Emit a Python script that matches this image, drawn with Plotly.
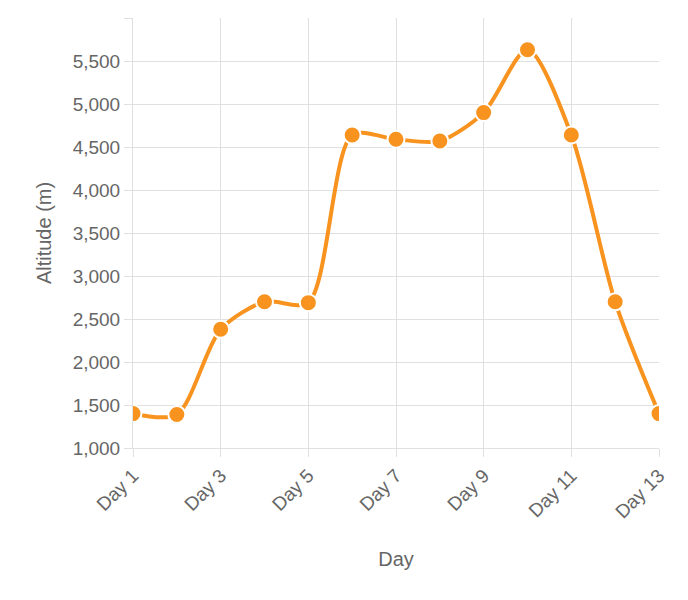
import plotly.graph_objects as go

days = list(range(1, 14))
day_labels = ["Day %d" % d for d in days]
altitude = [1400, 1390, 2380, 2700, 2690, 4640, 4590, 4570, 4900, 5630, 4640, 2700, 1400]

tick_days = days[::2]
tick_text = day_labels[::2]

fig = go.Figure()
fig.add_trace(go.Scatter(
    x=days, y=altitude, mode="lines+markers",
    line=dict(color="#F7931E", width=4, shape="spline", smoothing=0.8),
    marker=dict(size=17, color="#F7931E", line=dict(color="white", width=2)),
    hovertext=day_labels,
))

fig.update_layout(
    width=688, height=600,
    margin=dict(l=125, r=37, t=10, b=160),
    plot_bgcolor="white", paper_bgcolor="white",
    font=dict(family="Helvetica, Arial, sans-serif", size=19, color="#666"),
    showlegend=False,
    xaxis=dict(title=dict(text="Day", font=dict(size=20), standoff=30), range=[1, 13],
               tickvals=tick_days, ticktext=tick_text, tickangle=-45,
               showgrid=True, gridcolor="#e0e0e0", zeroline=False,
               ticks="outside", ticklen=8, tickcolor="#e0e0e0",
               showline=True, linecolor="#e0e0e0"),
    yaxis=dict(title=dict(text="Altitude (m)", font=dict(size=20)), range=[1000, 6000],
               dtick=500, tickformat=",", showgrid=True, gridcolor="#e0e0e0",
               zeroline=False, ticks="outside", ticklen=8, tickcolor="#e0e0e0",
               showline=True, linecolor="#e0e0e0"),
)

fig.write_html("out.html")
